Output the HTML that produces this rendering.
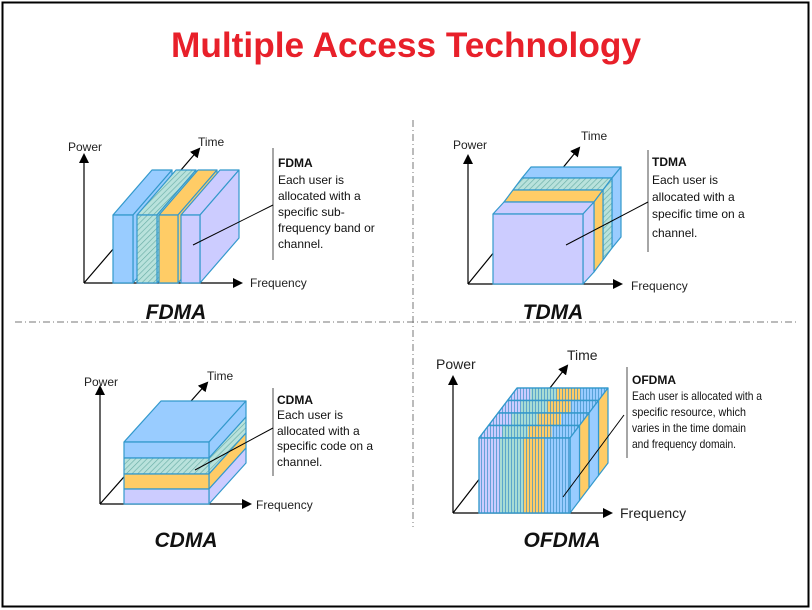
<!DOCTYPE html>
<html><head><meta charset="utf-8"><style>
html,body{margin:0;padding:0;background:#fff}
svg{display:block}
text{font-family:"Liberation Sans",Arial,sans-serif}
</style></head><body>
<svg width="812" height="610" viewBox="0 0 812 610" xmlns="http://www.w3.org/2000/svg">
<defs>
<marker id="ah" markerWidth="10" markerHeight="10" refX="8" refY="5" orient="auto" markerUnits="userSpaceOnUse"><path d="M0,0 L10,5 L0,10 z" fill="#000"/></marker>
<pattern id="hatch" width="4" height="4" patternUnits="userSpaceOnUse" patternTransform="rotate(45)"><rect width="4" height="4" fill="#b9e2dc"/><line x1="0" y1="0" x2="0" y2="4" stroke="#6aaea6" stroke-width="1.3"/></pattern>
<pattern id="vstr" width="3" height="6" patternUnits="userSpaceOnUse"><line x1="1.5" y1="0" x2="1.5" y2="6" stroke="#3a8fc8" stroke-width="0.7"/></pattern>
<linearGradient id="grp" x1="0" x2="1" y1="0" y2="0">
<stop offset="0" stop-color="#ccccff"/><stop offset="0.23" stop-color="#ccccff"/>
<stop offset="0.23" stop-color="#a8dcd4"/><stop offset="0.49" stop-color="#a8dcd4"/>
<stop offset="0.49" stop-color="#ffcc66"/><stop offset="0.72" stop-color="#ffcc66"/>
<stop offset="0.72" stop-color="#99ccff"/><stop offset="1" stop-color="#99ccff"/>
</linearGradient>
</defs>
<rect x="2.5" y="2.5" width="806" height="604" fill="#fff" stroke="#000" stroke-width="2"/>
<text x="406" y="57" text-anchor="middle" font-size="35" font-weight="bold" fill="#e8202a" textLength="470" lengthAdjust="spacingAndGlyphs">Multiple Access Technology</text>

<g stroke="#777" stroke-width="1" stroke-dasharray="7,3,1,3">
<line x1="15" y1="322" x2="797" y2="322"/>
<line x1="413" y1="120" x2="413" y2="527"/>
</g>

<g stroke="#000" stroke-width="1.2" fill="none">
<line x1="84" y1="283" x2="84" y2="155" marker-end="url(#ah)"/>
<line x1="84" y1="283" x2="241" y2="283" marker-end="url(#ah)"/>
<line x1="84" y1="283" x2="199" y2="149" marker-end="url(#ah)"/>
<line x1="468" y1="284" x2="468" y2="156" marker-end="url(#ah)"/>
<line x1="468" y1="284" x2="621" y2="284" marker-end="url(#ah)"/>
<line x1="468" y1="284" x2="579" y2="148" marker-end="url(#ah)"/>
<line x1="100" y1="504" x2="100" y2="387" marker-end="url(#ah)"/>
<line x1="100" y1="504" x2="250" y2="504" marker-end="url(#ah)"/>
<line x1="100" y1="504" x2="207" y2="383" marker-end="url(#ah)"/>
<line x1="453" y1="513" x2="453" y2="377" marker-end="url(#ah)"/>
<line x1="453" y1="513" x2="611" y2="513" marker-end="url(#ah)"/>
<line x1="453" y1="513" x2="567" y2="366" marker-end="url(#ah)"/>
</g>

<g stroke="#3399cc" stroke-width="1.2" stroke-linejoin="round">
<polygon points="113,215 133,215 172,170 152,170" fill="#99ccff"/><polygon points="133,215 172,170 172,238 133,283" fill="#99ccff"/><rect x="113" y="215" width="20" height="68" fill="#99ccff"/>
<polygon points="137,215 157,215 196,170 176,170" fill="url(#hatch)"/><polygon points="157,215 196,170 196,238 157,283" fill="url(#hatch)"/><rect x="137" y="215" width="20" height="68" fill="url(#hatch)"/>
<polygon points="159,215 178,215 217,170 198,170" fill="#ffcc66"/><polygon points="178,215 217,170 217,238 178,283" fill="#ffcc66"/><rect x="159" y="215" width="19" height="68" fill="#ffcc66"/>
<polygon points="181,215 200,215 239,170 220,170" fill="#ccccff"/><polygon points="200,215 239,170 239,238 200,283" fill="#ccccff"/><rect x="181" y="215" width="19" height="68" fill="#ccccff"/>
</g>

<g stroke="#3399cc" stroke-width="1.2" stroke-linejoin="round">
<polygon points="522,178 612,178 621,167 531,167" fill="#99ccff"/><polygon points="612,178 621,167 621,237 612,248" fill="#99ccff"/>
<polygon points="513,190 603,190 612,178 522,178" fill="url(#hatch)"/><polygon points="603,190 612,178 612,248 603,260" fill="url(#hatch)"/>
<polygon points="504,202 594,202 603,190 513,190" fill="#ffcc66"/><polygon points="594,202 603,190 603,260 594,272" fill="#ffcc66"/>
<polygon points="493,214 583,214 594,202 504,202" fill="#ccccff"/><polygon points="583,214 594,202 594,272 583,284" fill="#ccccff"/>
<rect x="493" y="214" width="90" height="70" fill="#ccccff"/>
</g>

<g stroke="#3399cc" stroke-width="1.2" stroke-linejoin="round">
<polygon points="124,442 209,442 246,401 161,401" fill="#99ccff"/>
<polygon points="209,442 246,401 246,417 209,458" fill="#99ccff"/><rect x="124" y="442" width="85" height="16" fill="#99ccff"/>
<polygon points="209,458 246,417 246,433 209,474" fill="url(#hatch)"/><rect x="124" y="458" width="85" height="16" fill="url(#hatch)"/>
<polygon points="209,474 246,433 246,448 209,489" fill="#ffcc66"/><rect x="124" y="474" width="85" height="15" fill="#ffcc66"/>
<polygon points="209,489 246,448 246,463 209,504" fill="#ccccff"/><rect x="124" y="489" width="85" height="15" fill="#ccccff"/>
</g>

<g stroke="#3399cc" stroke-width="1.2" stroke-linejoin="round">
<polygon points="507.5,400.5 598.5,400.5 608,388 517,388" fill="url(#grp)"/><polygon points="507.5,400.5 598.5,400.5 608,388 517,388" fill="url(#vstr)"/>
<polygon points="598.5,400.5 608,388 608,463 598.5,475.5" fill="#ffcc66"/>
<polygon points="498,413 589,413 598.5,400.5 507.5,400.5" fill="url(#grp)"/><polygon points="498,413 589,413 598.5,400.5 507.5,400.5" fill="url(#vstr)"/>
<polygon points="589,413 598.5,400.5 598.5,475.5 589,488" fill="#99ccff"/>
<polygon points="488.5,425.5 579.5,425.5 589,413 498,413" fill="url(#grp)"/><polygon points="488.5,425.5 579.5,425.5 589,413 498,413" fill="url(#vstr)"/>
<polygon points="579.5,425.5 589,413 589,488 579.5,500.5" fill="#ffcc66"/>
<polygon points="479,438 570,438 579.5,425.5 488.5,425.5" fill="url(#grp)"/><polygon points="479,438 570,438 579.5,425.5 488.5,425.5" fill="url(#vstr)"/>
<polygon points="570,438 579.5,425.5 579.5,500.5 570,513" fill="#99ccff"/>
<rect x="479" y="438" width="91" height="75" fill="url(#grp)"/>
<rect x="479" y="438" width="91" height="75" fill="url(#vstr)"/>
</g>

<g stroke="#777" stroke-width="1.3">
<line x1="273" y1="148" x2="273" y2="260"/>
<line x1="648" y1="150" x2="648" y2="252"/>
<line x1="273" y1="388" x2="273" y2="476"/>
<line x1="627" y1="367" x2="627" y2="458"/>
</g>
<g stroke="#000" stroke-width="1">
<line x1="193" y1="245" x2="273" y2="205"/>
<line x1="566" y1="245" x2="648" y2="202"/>
<line x1="195" y1="470" x2="273" y2="428"/>
<line x1="563" y1="497" x2="624" y2="415"/>
</g>

<g font-size="12" fill="#111">
<text x="278" y="167" font-weight="bold">FDMA</text>
<text x="278" y="184">Each user is</text>
<text x="278" y="200">allocated with a</text>
<text x="278" y="216">specific sub-</text>
<text x="278" y="232">frequency band or</text>
<text x="278" y="248">channel.</text>

<text x="652" y="166" font-weight="bold">TDMA</text>
<text x="652" y="184">Each user is</text>
<text x="652" y="201">allocated with a</text>
<text x="652" y="218">specific time on a</text>
<text x="652" y="237">channel.</text>

<text x="277" y="404" font-weight="bold">CDMA</text>
<text x="277" y="419">Each user is</text>
<text x="277" y="435">allocated with a</text>
<text x="277" y="450">specific code on a</text>
<text x="277" y="466">channel.</text>
</g>
<g font-size="12" fill="#111">
<text x="632" y="384" font-weight="bold">OFDMA</text>
<text x="632" y="400" textLength="130" lengthAdjust="spacingAndGlyphs">Each user is allocated with a</text>
<text x="632" y="416" textLength="114" lengthAdjust="spacingAndGlyphs">specific resource, which</text>
<text x="632" y="432" textLength="114" lengthAdjust="spacingAndGlyphs">varies in the time domain</text>
<text x="632" y="448" textLength="104" lengthAdjust="spacingAndGlyphs">and frequency domain.</text>
</g>

<g font-size="12" fill="#222">
<text x="68" y="151">Power</text><text x="198" y="146">Time</text><text x="250" y="287">Frequency</text>
<text x="453" y="149">Power</text><text x="581" y="140">Time</text><text x="631" y="290">Frequency</text>
<text x="84" y="386">Power</text><text x="207" y="380">Time</text><text x="256" y="509">Frequency</text>
</g>
<g font-size="14" fill="#222">
<text x="436" y="369">Power</text><text x="567" y="360">Time</text><text x="620" y="518">Frequency</text>
</g>

<g font-size="21" font-weight="bold" font-style="italic" fill="#111" text-anchor="middle">
<text x="176" y="319">FDMA</text>
<text x="553" y="319">TDMA</text>
<text x="186" y="547">CDMA</text>
<text x="562" y="547">OFDMA</text>
</g>
</svg>
</body></html>
